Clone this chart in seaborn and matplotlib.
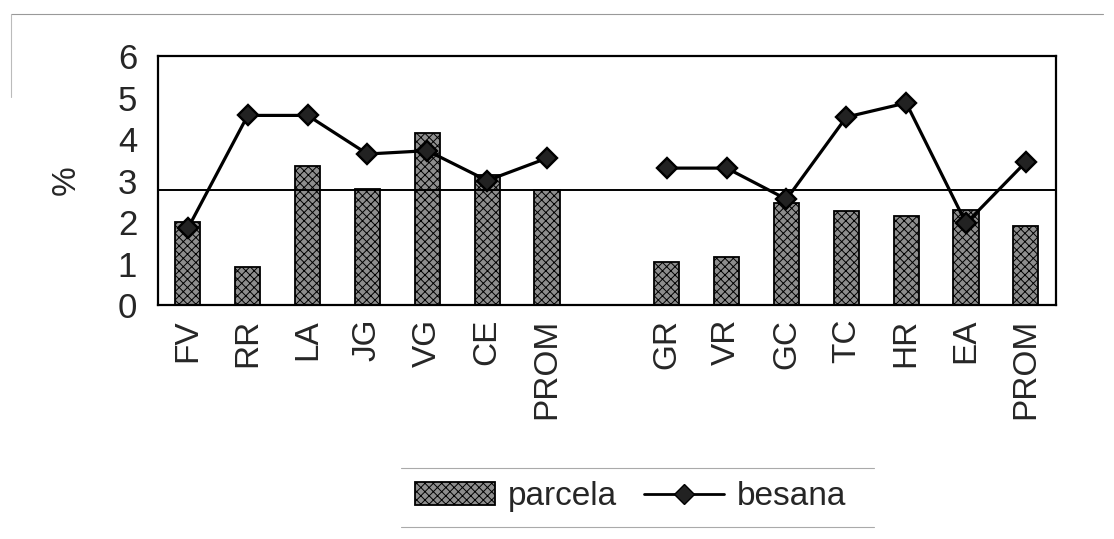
import matplotlib
matplotlib.use("Agg")
import matplotlib.pyplot as plt
import seaborn as sns
import pandas as pd
import numpy as np
from matplotlib.patches import Patch
from matplotlib.lines import Line2D

# ---- data ----
group1_labels = ["FV", "RR", "LA", "JG", "VG", "CE", "PROM"]
group2_labels = ["GR", "VR", "GC", "TC", "HR", "EA", "PROM"]
parcela_g1 = [2.0, 0.92, 3.35, 2.8, 4.14, 3.13, 2.78]
parcela_g2 = [1.04, 1.16, 2.46, 2.27, 2.14, 2.29, 1.9]
besana_g1 = [1.85, 4.57, 4.57, 3.64, 3.72, 3.0, 3.54]
besana_g2 = [3.3, 3.3, 2.55, 4.53, 4.87, 1.97, 3.45]
reference_level = 2.78
y_ticks = [0, 1, 2, 3, 4, 5, 6]

# ---- table ----
keys1 = ["A_" + l for l in group1_labels]
keys2 = ["B_" + l for l in group2_labels]
gap_key = "gap"
order = keys1 + [gap_key] + keys2
tick_labels = group1_labels + [""] + group2_labels

df = pd.DataFrame({
    "key": keys1 + keys2,
    "group": ["g1"] * len(keys1) + ["g2"] * len(keys2),
    "parcela": parcela_g1 + parcela_g2,
    "besana": besana_g1 + besana_g2,
})

sns.set_style("white")
plt.rcParams["font.family"] = ["Liberation Sans", "DejaVu Sans"]
plt.rcParams["hatch.linewidth"] = 0.7

fig = plt.figure(figsize=(11.14, 5.39), dpi=100)
ax = fig.add_axes([0.1418, 0.434, 0.806, 0.462])

bar_face = "#8e8e8e"
sns.barplot(data=df, x="key", y="parcela", order=order, color=bar_face,
            width=0.42, edgecolor="black", linewidth=1.3, hatch="xxxx",
            saturation=1, ax=ax)

ax.axhline(reference_level, color="black", lw=1.4, zorder=3)

sns.pointplot(data=df, x="key", y="besana", hue="group", order=order,
              palette=["black", "black"], markers="D", linestyles="-",
              dodge=False, errorbar=None, legend=False, ax=ax,
              markersize=10, linewidth=2.3, markeredgecolor="black",
              markerfacecolor="#222222")

ax.set_ylim(0, 6)
ax.set_xlim(-0.5, len(order) - 0.5)
ax.set_yticks(y_ticks)
ax.set_yticklabels([str(t) for t in y_ticks], fontsize=25)
ax.set_xticks(range(len(order)))
ax.set_xticklabels(tick_labels, rotation=90, fontsize=24)
ax.set_xticks(np.arange(len(order) - 1) + 0.5, minor=True)
ax.tick_params(axis="x", which="major", length=0, pad=10)
ax.tick_params(axis="x", which="minor", length=6, width=0.8, direction="out")
ax.tick_params(axis="y", which="major", length=5, width=0.8, direction="out", pad=10)
ax.set_xlabel("")
ax.set_ylabel("%", fontsize=24, labelpad=26)
for s in ax.spines.values():
    s.set_visible(True)
    s.set_color("black")
    s.set_linewidth(1.6)

handles = [
    Patch(facecolor=bar_face, edgecolor="black", hatch="xxxx", linewidth=1.3),
    Line2D([0], [0], color="black", lw=2.0, marker="D", markersize=10,
           markerfacecolor="#222222", markeredgecolor="black"),
]
fig.legend(handles, ["parcela", "besana"], loc="center", ncol=2,
           bbox_to_anchor=(0.566, 0.078), frameon=False, fontsize=24,
           handlelength=2.4, handleheight=0.7, handletextpad=0.4,
           columnspacing=0.8)

# scanned frame lines
fig.add_artist(Line2D([0.01, 0.99], [0.974, 0.974], color="#999999", lw=0.8))
fig.add_artist(Line2D([0.01, 0.01], [0.974, 0.82], color="#bbbbbb", lw=0.8))
fig.add_artist(Line2D([0.36, 0.785], [0.131, 0.131], color="#aaaaaa", lw=0.8))
fig.add_artist(Line2D([0.36, 0.785], [0.022, 0.022], color="#aaaaaa", lw=0.8))

fig.savefig("out.png", dpi=100)
